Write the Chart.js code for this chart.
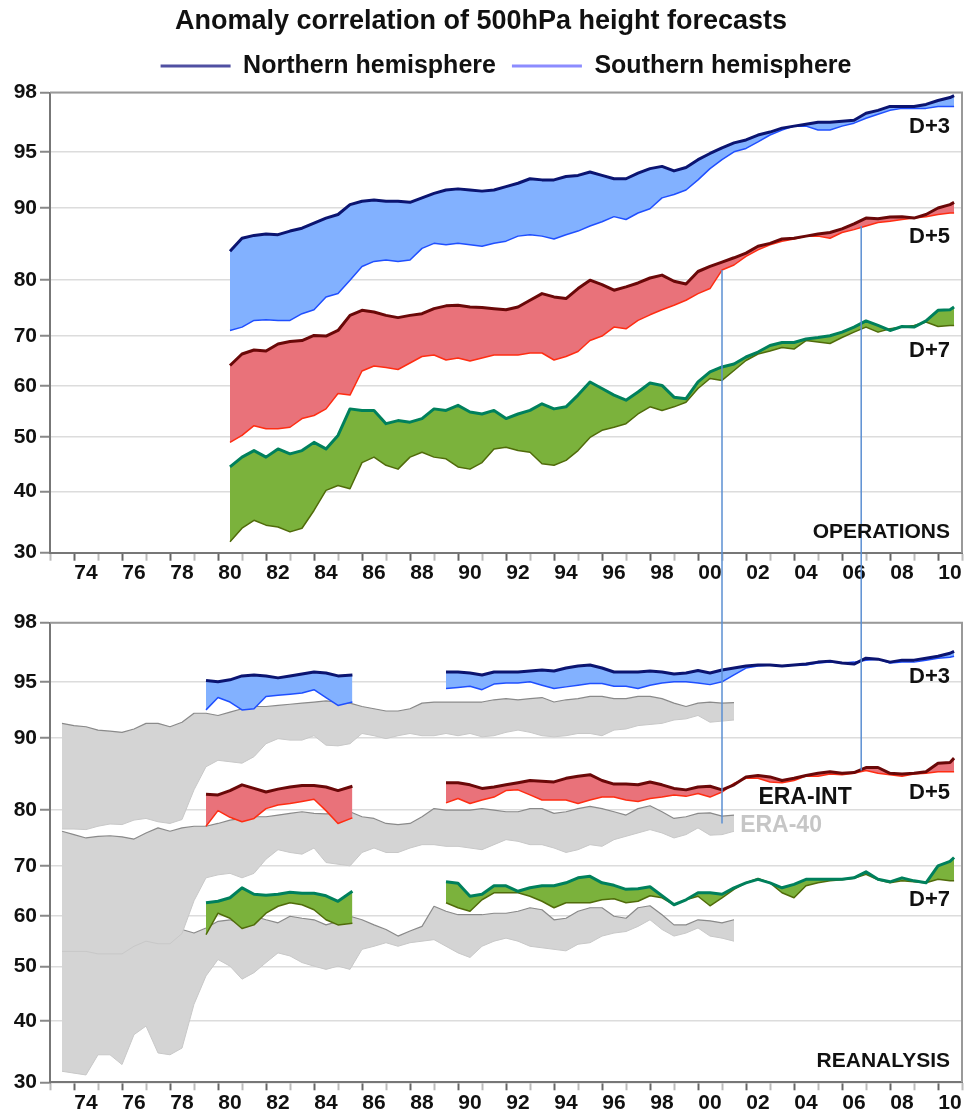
<!DOCTYPE html>
<html lang="en">
<head>
    <meta charset="UTF-8">
    <title>Anomaly correlation of 500hPa height forecasts</title>
    <script src="https://cdn.jsdelivr.net/npm/chart.js"></script>
    <style>
        html, body { margin: 0; padding: 0; background: #fff; }
        #wrap { position: relative; width: 965px; height: 1112px; }
        #opsChart { position: absolute; left: 0; top: 0; }
        #reaChart { position: absolute; left: 0; top: 590px; }
    </style>
</head>
<body>
<div id="wrap">
    <canvas id="opsChart" width="965" height="590"></canvas>
    <canvas id="reaChart" width="965" height="522"></canvas>
</div>
<script>
    // ---- axis definition (printed tick values and their relative spacing) ----
    const Y_TICKS = [30, 40, 50, 60, 70, 80, 90, 95, 98];
    const Y_GAPS = [61.2, 54.6, 51.0, 49.9, 55.9, 72.2, 56.2, 59.2];

    // ---- operations (top panel), 12-month running means ----
    const OPS_YEARS = [1980.5, 1981, 1981.5, 1982, 1982.5, 1983, 1983.5, 1984, 1984.5, 1985,
        1985.5, 1986, 1986.5, 1987, 1987.5, 1988, 1988.5, 1989, 1989.5, 1990,
        1990.5, 1991, 1991.5, 1992, 1992.5, 1993, 1993.5, 1994, 1994.5, 1995,
        1995.5, 1996, 1996.5, 1997, 1997.5, 1998, 1998.5, 1999, 1999.5, 2000,
        2000.5, 2001, 2001.5, 2002, 2002.5, 2003, 2003.5, 2004, 2004.5, 2005,
        2005.5, 2006, 2006.5, 2007, 2007.5, 2008, 2008.5, 2009, 2009.5, 2010,
        2010.5, 2010.67];
    const OPS_D3_NH = [84.0, 85.8, 86.2, 86.4, 86.3, 86.8, 87.2, 87.9, 88.6, 89.1,
        90.3, 90.6, 90.7, 90.6, 90.6, 90.5, 90.9, 91.3, 91.6, 91.7,
        91.6, 91.5, 91.6, 91.9, 92.2, 92.6, 92.5, 92.5, 92.8, 92.9,
        93.2, 92.9, 92.6, 92.6, 93.1, 93.5, 93.7, 93.3, 93.6, 94.3,
        94.85, 95.2, 95.45, 95.6, 95.85, 96.0, 96.2, 96.3, 96.4, 96.5,
        96.5, 96.55, 96.6, 96.95, 97.1, 97.3, 97.3, 97.3, 97.4, 97.6,
        97.75, 97.85];
    const OPS_D3_SH = [71.0, 71.6, 72.8, 72.9, 72.8, 72.8, 74.0, 74.7, 77.0, 77.6,
        80.0, 81.9, 82.6, 82.8, 82.6, 82.8, 84.4, 85.1, 84.9, 85.1,
        84.9, 84.7, 85.1, 85.4, 86.1, 86.3, 86.1, 85.7, 86.3, 86.8,
        87.5, 88.1, 88.8, 88.4, 89.3, 89.9, 90.9, 91.2, 91.6, 92.5,
        93.5, 94.3, 95.0, 95.17, 95.5, 95.85, 96.1, 96.3, 96.3, 96.1,
        96.1, 96.3, 96.45, 96.7, 96.9, 97.1, 97.2, 97.2, 97.2, 97.3,
        97.3, 97.3];
    const OPS_D5_NH = [64.1, 66.4, 67.2, 67.0, 68.4, 68.9, 69.1, 70.1, 70.0, 71.0,
        73.7, 74.6, 74.3, 73.7, 73.3, 73.7, 74.0, 74.9, 75.4, 75.5,
        75.2, 75.1, 74.9, 74.7, 75.2, 76.4, 77.6, 77.0, 76.7, 78.5,
        80.0, 79.2, 78.2, 78.8, 79.5, 80.3, 80.7, 79.8, 79.3, 81.2,
        81.9, 82.5, 83.1, 83.75, 84.7, 85.1, 85.7, 85.8, 86.1, 86.4,
        86.6, 87.1, 87.8, 88.6, 88.5, 88.75, 88.8, 88.6, 89.1, 90.0,
        90.3, 90.5];
    const OPS_D5_SH = [49.0, 50.3, 52.2, 51.6, 51.6, 51.9, 53.6, 54.2, 55.5, 58.5,
        58.2, 63.0, 64.0, 63.7, 63.3, 64.6, 65.9, 66.2, 65.2, 65.6,
        65.0, 65.6, 66.2, 66.2, 66.2, 66.6, 66.6, 65.2, 65.9, 66.9,
        69.1, 70.0, 71.6, 71.3, 72.8, 73.8, 74.7, 75.5, 76.4, 77.6,
        78.5, 81.4, 82.1, 83.3, 84.2, 84.9, 85.4, 85.7, 86.1, 86.1,
        85.8, 86.6, 87.0, 87.5, 88.0, 88.15, 88.4, 88.6, 88.8, 89.1,
        89.3, 89.3];
    const OPS_D7_NH = [44.5, 46.3, 47.5, 46.3, 47.8, 46.9, 47.5, 49.0, 47.8, 50.3,
        55.5, 55.2, 55.2, 52.6, 53.2, 52.9, 53.6, 55.5, 55.2, 56.2,
        54.9, 54.5, 55.2, 53.6, 54.5, 55.2, 56.5, 55.5, 55.9, 58.2,
        60.8, 59.5, 58.2, 57.2, 58.8, 60.6, 60.1, 57.8, 57.5, 60.8,
        62.8, 63.8, 64.4, 65.8, 66.8, 68.1, 68.7, 68.7, 69.4, 69.7,
        70.05, 70.7, 71.6, 72.7, 71.9, 71.0, 71.7, 71.6, 72.7, 74.6,
        74.7, 75.2];
    const OPS_D7_SH = [31.8, 34.0, 35.3, 34.5, 34.2, 33.4, 34.0, 36.9, 40.2, 41.1,
        40.5, 45.3, 46.3, 44.8, 44.1, 46.3, 47.2, 46.3, 46.0, 44.5,
        44.1, 45.3, 47.8, 48.1, 47.5, 47.2, 45.1, 44.8, 45.7, 47.5,
        49.9, 51.3, 51.9, 52.6, 54.5, 55.9, 55.2, 55.9, 56.8, 59.5,
        61.5, 61.1, 63.1, 65.1, 66.4, 67.0, 67.7, 67.4, 69.1, 68.8,
        68.5, 69.7, 70.7, 71.6, 70.7, 71.3, 71.6, 71.9, 72.5, 71.7,
        71.9, 71.9];

    // ---- ERA-40 reanalysis (bottom panel, grey) ----
    const E40_YEARS = [1973.5, 1974, 1974.5, 1975, 1975.5, 1976, 1976.5, 1977, 1977.5, 1978,
        1978.5, 1979, 1979.5, 1980, 1980.5, 1981, 1981.5, 1982, 1982.5, 1983,
        1983.5, 1984, 1984.5, 1985, 1985.5, 1986, 1986.5, 1987, 1987.5, 1988,
        1988.5, 1989, 1989.5, 1990, 1990.5, 1991, 1991.5, 1992, 1992.5, 1993,
        1993.5, 1994, 1994.5, 1995, 1995.5, 1996, 1996.5, 1997, 1997.5, 1998,
        1998.5, 1999, 1999.5, 2000, 2000.5, 2001, 2001.5];
    const E40_D3_NH = [91.3, 91.1, 91.0, 90.7, 90.6, 90.5, 90.8, 91.3, 91.3, 91.0,
        91.4, 92.2, 92.2, 92.0, 92.3, 92.6, 92.8, 92.8, 92.9, 93.0,
        93.1, 93.2, 93.3, 93.2, 93.1, 92.8, 92.6, 92.4, 92.4, 92.6,
        93.1, 93.2, 93.2, 93.2, 93.2, 93.2, 93.4, 93.5, 93.4, 93.5,
        93.6, 93.2, 93.4, 93.5, 93.7, 93.7, 93.5, 93.5, 93.7, 93.7,
        93.5, 93.1, 92.8, 93.1, 93.2, 93.1, 93.15];
    const E40_D3_SH = [76.6, 76.6, 76.5, 77.1, 77.5, 77.4, 78.2, 78.5, 77.9, 77.6,
        78.3, 82.8, 86.0, 86.9, 86.7, 86.5, 87.4, 89.2, 89.9, 89.7,
        89.7, 90.2, 89.0, 88.9, 89.2, 90.4, 90.2, 89.9, 90.2, 90.4,
        90.2, 90.2, 90.4, 90.2, 90.4, 90.1, 90.2, 90.5, 90.7, 90.5,
        90.2, 90.1, 90.2, 90.4, 90.4, 90.2, 90.7, 90.8, 91.1, 91.2,
        91.3, 91.6, 91.7, 92.0, 91.4, 91.5, 91.6];
    const E40_D5_NH = [76.2, 75.6, 75.0, 75.3, 75.4, 75.2, 74.8, 75.9, 76.8, 76.2,
        76.8, 77.1, 77.1, 77.6, 78.2, 78.5, 78.8, 78.8, 79.1, 79.4,
        79.7, 79.4, 79.3, 79.4, 79.7, 78.8, 78.5, 77.6, 77.4, 77.6,
        78.8, 80.2, 80.0, 80.0, 80.0, 80.2, 80.0, 79.7, 79.7, 80.2,
        80.2, 79.4, 79.7, 80.2, 80.5, 80.2, 79.7, 79.1, 80.2, 80.6,
        79.7, 78.5, 78.8, 79.4, 79.5, 78.9, 79.1];
    const E40_D5_SH = [53.0, 53.0, 53.0, 52.5, 52.5, 52.5, 54.0, 55.0, 54.5, 54.5,
        56.5, 63.0, 67.6, 68.2, 68.5, 67.6, 68.5, 71.2, 72.9, 72.4,
        72.1, 73.2, 70.6, 70.3, 70.0, 72.4, 73.2, 72.4, 72.4, 73.2,
        73.8, 73.8, 73.5, 73.5, 73.2, 72.9, 73.8, 74.7, 74.4, 73.8,
        73.8, 73.2, 72.4, 72.9, 73.8, 73.5, 74.7, 75.3, 75.9, 76.5,
        75.9, 75.0, 75.6, 76.8, 75.5, 75.6, 76.2];
    const E40_D7_NH = [55.3, 55.0, 55.6, 54.7, 54.7, 54.4, 57.0, 57.6, 56.6, 57.0,
        57.3, 56.6, 57.6, 58.9, 59.2, 58.2, 59.9, 59.2, 58.6, 59.9,
        59.5, 59.2, 58.2, 58.9, 59.9, 59.2, 58.2, 57.3, 56.0, 57.0,
        57.9, 61.9, 60.9, 60.2, 60.2, 60.2, 60.5, 60.5, 60.9, 61.6,
        61.2, 59.2, 59.5, 60.9, 61.6, 61.6, 59.9, 59.5, 61.6, 62.0,
        60.2, 58.2, 58.2, 59.2, 59.0, 58.6, 59.2];
    const E40_D7_SH = [31.8, 31.5, 31.2, 34.5, 34.5, 32.9, 37.8, 39.2, 34.8, 34.5,
        35.6, 43.1, 48.3, 51.4, 50.1, 47.7, 48.9, 50.8, 52.7, 52.1,
        50.8, 50.1, 49.5, 50.1, 49.5, 53.4, 54.0, 54.7, 54.0, 54.7,
        55.0, 55.3, 54.0, 52.7, 51.8, 54.0, 55.0, 55.6, 55.0, 54.0,
        53.7, 53.4, 53.1, 54.4, 54.7, 56.0, 56.6, 56.9, 57.9, 59.2,
        57.3, 56.0, 56.6, 57.6, 56.0, 55.6, 55.0];

    // ---- ERA-Interim, first stream (1979-1985) ----
    const EI1_YEARS = [1979.5, 1980, 1980.5, 1981, 1981.5, 1982, 1982.5, 1983, 1983.5, 1984, 1984.5, 1985, 1985.6];
    const EI1_D3_NH = [95.07, 95.0, 95.1, 95.3, 95.35, 95.3, 95.2, 95.3, 95.4, 95.5, 95.45, 95.3, 95.35];
    const EI1_D3_SH = [92.5, 93.6, 93.2, 92.5, 92.6, 93.7, 93.8, 93.9, 94.0, 94.3, 93.6, 92.9, 93.2];
    const EI1_D5_NH = [82.2, 82.1, 82.7, 83.5, 83.0, 82.5, 82.9, 83.2, 83.4, 83.4, 83.2, 82.7, 83.3];
    const EI1_D5_SH = [77.1, 79.9, 78.7, 77.9, 78.5, 80.2, 80.7, 80.9, 81.2, 81.5, 79.9, 77.6, 78.6];
    const EI1_D7_NH = [62.6, 62.9, 63.6, 65.6, 64.3, 64.1, 64.3, 64.7, 64.5, 64.5, 64.0, 62.9, 64.9];
    const EI1_D7_SH = [56.3, 60.5, 59.5, 57.5, 58.2, 60.5, 61.9, 62.6, 62.2, 61.2, 59.2, 58.2, 58.5];

    // ---- ERA-Interim, second stream (1989-2010) ----
    const EI2_YEARS = [1989.5, 1990, 1990.5, 1991, 1991.5, 1992, 1992.5, 1993, 1993.5, 1994,
        1994.5, 1995, 1995.5, 1996, 1996.5, 1997, 1997.5, 1998, 1998.5, 1999,
        1999.5, 2000, 2000.5, 2001, 2001.5, 2002, 2002.5, 2003, 2003.5, 2004,
        2004.5, 2005, 2005.5, 2006, 2006.5, 2007, 2007.5, 2008, 2008.5, 2009,
        2009.5, 2010, 2010.5, 2010.67];
    const EI2_D3_NH = [95.5, 95.5, 95.45, 95.35, 95.5, 95.5, 95.5, 95.55, 95.6, 95.55,
        95.7, 95.8, 95.85, 95.7, 95.5, 95.5, 95.5, 95.55, 95.5, 95.4,
        95.45, 95.57, 95.45, 95.6, 95.7, 95.8, 95.85, 95.85, 95.8, 95.85,
        95.9, 96.0, 96.05, 95.95, 95.9, 96.2, 96.15, 96.0, 96.1, 96.1,
        96.2, 96.3, 96.45, 96.55];
    const EI2_D3_SH = [94.4, 94.5, 94.6, 94.3, 94.8, 94.9, 94.9, 95.0, 94.7, 94.4,
        94.55, 94.7, 94.85, 94.85, 94.6, 94.6, 94.4, 94.7, 94.9, 95.0,
        95.0, 94.9, 94.75, 95.0, 95.35, 95.7, 95.8, 95.85, 95.8, 95.85,
        95.85, 95.95, 96.0, 95.95, 96.0, 96.1, 96.15, 95.95, 96.0, 96.0,
        96.1, 96.2, 96.25, 96.3];
    const EI2_D5_NH = [83.8, 83.8, 83.5, 83.0, 83.2, 83.5, 83.8, 84.1, 84.0, 83.9,
        84.4, 84.7, 84.9, 84.1, 83.6, 83.6, 83.5, 83.9, 83.5, 83.0,
        82.8, 83.2, 83.3, 82.8, 83.5, 84.6, 84.8, 84.6, 84.1, 84.4,
        84.8, 85.1, 85.3, 85.1, 85.2, 85.9, 85.9, 85.1, 85.0, 85.1,
        85.3, 86.5, 86.6, 87.2];
    const EI2_D5_SH = [81.0, 81.6, 80.9, 81.4, 81.8, 82.7, 82.8, 82.1, 81.4, 81.4,
        81.4, 80.9, 81.4, 81.8, 81.8, 81.4, 81.2, 81.6, 81.8, 82.1,
        81.9, 82.3, 81.8, 82.5, 83.7, 84.4, 84.4, 83.9, 83.8, 84.1,
        84.7, 84.7, 85.0, 84.9, 85.1, 85.5, 85.1, 84.9, 84.7, 85.0,
        85.1, 85.3, 85.3, 85.3];
    const EI2_D7_NH = [66.8, 66.5, 63.9, 64.3, 66.0, 66.0, 64.9, 65.6, 66.0, 66.0,
        66.6, 67.6, 67.9, 66.6, 66.1, 65.3, 65.4, 65.8, 64.0, 62.2,
        63.2, 64.6, 64.6, 64.3, 65.6, 66.6, 67.3, 66.6, 65.6, 66.3,
        67.3, 67.3, 67.3, 67.3, 67.6, 68.8, 67.3, 66.8, 67.6, 67.0,
        66.6, 70.0, 70.8, 71.5];
    const EI2_D7_SH = [62.6, 61.6, 60.9, 63.2, 64.6, 64.6, 64.6, 63.9, 62.9, 61.6,
        62.6, 62.6, 62.6, 63.2, 63.4, 62.6, 62.9, 64.0, 63.6, 62.2,
        63.2, 63.9, 62.0, 63.6, 65.3, 66.6, 67.5, 66.6, 64.6, 63.6,
        66.0, 66.6, 67.0, 67.2, 67.5, 68.3, 67.2, 66.6, 67.0, 66.8,
        66.6, 67.3, 67.0, 67.0];

    // ---- connectors between the panels (year, D+5 value in each panel) ----
    const LINK_YEARS = [2001.0, 2006.8];
    const LINK_OPS = [81.4, 87.5];
    const LINK_REA = [77.6, 85.5];

    const LEGEND_NAMES = ['Northern hemisphere', 'Southern hemisphere'];

    const FONT = "'Liberation Sans', Arial, Helvetica, sans-serif";
    const STYLE = {
        d3: { nh: '#0b1470', sh: '#1f4fff', fill: '#82b1ff' },
        d5: { nh: '#6a0808', sh: '#ff2d12', fill: '#e9727a' },
        d7: { nh: '#00805c', sh: '#506b0a', fill: '#7bb23c' },
        era40: { nh: '#8a8a8a', sh: '#c8c8c8', fill: '#d4d4d4' }
    };
    const LEGEND_COLORS = ['#5050a2', '#8c8cff'];

    const OPS_TEXTS = [
        { text: 'D+3', x: 2010.5, y: 96.27, align: 'right', color: '#111', size: 22 },
        { text: 'D+5', x: 2010.5, y: 86.05, align: 'right', color: '#111', size: 22 },
        { text: 'D+7', x: 2010.5, y: 67.1, align: 'right', color: '#111', size: 22 },
        { text: 'OPERATIONS', x: 2010.5, y: 33.4, align: 'right', color: '#111', size: 21 }
    ];
    const REA_TEXTS = [
        { text: 'D+3', x: 2010.5, y: 95.25, align: 'right', color: '#111', size: 22 },
        { text: 'D+5', x: 2010.5, y: 82.4, align: 'right', color: '#111', size: 22 },
        { text: 'ERA-INT', x: 2004.46, y: 81.66, align: 'center', color: '#111', size: 23 },
        { text: 'ERA-40', x: 2003.46, y: 77.2, align: 'center', color: '#c6c6c6', size: 23 },
        { text: 'D+7', x: 2010.5, y: 63.25, align: 'right', color: '#111', size: 22 },
        { text: 'REANALYSIS', x: 2010.5, y: 33.4, align: 'right', color: '#111', size: 21 }
    ];

    // Piecewise scale: ticks keep the uneven spacing of the printed axis
    const yCum = [0];
    Y_GAPS.forEach((g, i) => yCum.push(yCum[i] + g));
    const yTotal = yCum[yCum.length - 1];

    function warp(v) {
        let i = 0;
        while (i < Y_TICKS.length - 2 && v > Y_TICKS[i + 1]) i++;
        const f = (v - Y_TICKS[i]) / (Y_TICKS[i + 1] - Y_TICKS[i]);
        return (yCum[i] + f * Y_GAPS[i]) / yTotal;
    }

    function unwarp(d) {
        const u = d * yTotal;
        let i = 0;
        while (i < Y_GAPS.length - 1 && u > yCum[i + 1]) i++;
        return Y_TICKS[i] + (u - yCum[i]) / Y_GAPS[i] * (Y_TICKS[i + 1] - Y_TICKS[i]);
    }

    class WarpScale extends Chart.LinearScale {
        static id = 'warp';
        static defaults = {};
        buildTicks() { return Y_TICKS.map(v => ({ value: v })); }
        getPixelForValue(v) { return this.getPixelForDecimal(warp(v)); }
        getValueForPixel(p) { return unwarp(this.getDecimalForPixel(p)); }
    }
    Chart.register(WarpScale);

    // NH line + SH line, area filled between them
    function band(years, nh, sh, style, order, thin) {
        const pts = vals => years.map((yr, i) => ({ x: yr, y: vals[i] }));
        return [
            { data: pts(nh), borderColor: style.nh, borderWidth: thin ? 1.2 : 3, fill: false, order: order },
            { data: pts(sh), borderColor: style.sh, borderWidth: thin ? 1 : 1.5, backgroundColor: style.fill, fill: '-1', order: order }
        ];
    }

    function xAxis(height) {
        return {
            type: 'linear', min: 1973, max: 2011,
            afterFit: s => { s.height = height; },
            border: { display: true, color: '#777', width: 2 },
            grid: {
                drawOnChartArea: false, drawTicks: true, tickLength: 8, tickWidth: 2,
                tickColor: c => (Math.round(c.tick.value) % 2 === 0 ? '#666' : '#bbb')
            },
            ticks: {
                stepSize: 1, autoSkip: false, maxRotation: 0, minRotation: 0, padding: 0, labelOffset: 12,
                color: '#111', font: { family: FONT, size: 21, weight: 'bold' },
                callback: v => {
                    const yr = Math.round(v);
                    return yr % 2 === 0 ? String(yr % 100).padStart(2, '0') : '';
                }
            }
        };
    }

    function yAxis() {
        return {
            type: 'warp', min: 30, max: 98,
            afterFit: s => { s.width = 50; },
            border: { display: true, color: '#777', width: 2 },
            grid: { color: '#dcdcdc', lineWidth: 1.5, tickLength: 10, tickColor: '#888', tickWidth: 2 },
            ticks: {
                padding: 3, color: '#111', font: { family: FONT, size: 21, weight: 'bold' },
                callback: v => String(v)
            }
        };
    }

    // frame, panel captions and the connector lines
    function decor(texts, linkVals, down) {
        return {
            id: 'decor',
            afterDatasetsDraw(chart) {
                const { ctx, chartArea: a } = chart;
                const x = chart.scales.x, y = chart.scales.y;
                ctx.save();
                ctx.strokeStyle = '#999';
                ctx.lineWidth = 2;
                ctx.beginPath();
                ctx.moveTo(a.left, a.top);
                ctx.lineTo(a.right, a.top);
                ctx.lineTo(a.right, a.bottom);
                ctx.stroke();

                ctx.strokeStyle = '#5b8fd2';
                ctx.lineWidth = 1.5;
                LINK_YEARS.forEach((yr, i) => {
                    const px = x.getPixelForValue(yr);
                    ctx.beginPath();
                    ctx.moveTo(px, y.getPixelForValue(linkVals[i]));
                    ctx.lineTo(px, down ? chart.height : 0);
                    ctx.stroke();
                });

                ctx.textBaseline = 'middle';
                texts.forEach(t => {
                    ctx.font = 'bold ' + t.size + 'px ' + FONT;
                    ctx.fillStyle = t.color;
                    ctx.textAlign = t.align;
                    ctx.fillText(t.text, x.getPixelForValue(t.x), y.getPixelForValue(t.y));
                });
                ctx.restore();
            }
        };
    }

    const common = {
        responsive: false,
        animation: false,
        events: [],
        elements: { point: { radius: 0 }, line: { tension: 0, borderJoinStyle: 'round' } },
        plugins: { tooltip: { enabled: false } }
    };

    new Chart(document.getElementById('opsChart'), {
        type: 'line',
        data: {
            datasets: [
                ...band(OPS_YEARS, OPS_D3_NH, OPS_D3_SH, STYLE.d3, 0),
                ...band(OPS_YEARS, OPS_D5_NH, OPS_D5_SH, STYLE.d5, 0),
                ...band(OPS_YEARS, OPS_D7_NH, OPS_D7_SH, STYLE.d7, 0)
            ]
        },
        options: {
            ...common,
            layout: { padding: { top: 0, right: 3, bottom: 0, left: 0 } },
            scales: { x: xAxis(37.3), y: yAxis() },
            plugins: {
                tooltip: { enabled: false },
                title: {
                    display: true,
                    text: 'Anomaly correlation of 500hPa height forecasts',
                    color: '#111',
                    font: { family: FONT, size: 27, weight: 'bold' },
                    padding: { top: 5, bottom: 0 }
                },
                legend: {
                    display: true, position: 'top', fullSize: false,
                    labels: {
                        boxWidth: 70, boxHeight: 3, padding: 16, color: '#111',
                        font: { family: FONT, size: 25, weight: 'bold' },
                        generateLabels: () => LEGEND_NAMES.map((t, i) => ({
                            text: t, fillStyle: LEGEND_COLORS[i], strokeStyle: LEGEND_COLORS[i],
                            lineWidth: 0, hidden: false, fontColor: '#111'
                        }))
                    }
                },
                // small spacer between legend and plot area
                subtitle: { display: true, text: '', weight: 500, padding: 0, font: { size: 3.5 } }
            }
        },
        plugins: [decor(OPS_TEXTS, LINK_OPS, true)]
    });

    new Chart(document.getElementById('reaChart'), {
        type: 'line',
        data: {
            datasets: [
                ...band(EI1_YEARS, EI1_D3_NH, EI1_D3_SH, STYLE.d3, 0),
                ...band(EI1_YEARS, EI1_D5_NH, EI1_D5_SH, STYLE.d5, 0),
                ...band(EI1_YEARS, EI1_D7_NH, EI1_D7_SH, STYLE.d7, 0),
                ...band(EI2_YEARS, EI2_D3_NH, EI2_D3_SH, STYLE.d3, 0),
                ...band(EI2_YEARS, EI2_D5_NH, EI2_D5_SH, STYLE.d5, 0),
                ...band(EI2_YEARS, EI2_D7_NH, EI2_D7_SH, STYLE.d7, 0),
                ...band(E40_YEARS, E40_D3_NH, E40_D3_SH, STYLE.era40, 1, true),
                ...band(E40_YEARS, E40_D5_NH, E40_D5_SH, STYLE.era40, 1, true),
                ...band(E40_YEARS, E40_D7_NH, E40_D7_SH, STYLE.era40, 1, true)
            ]
        },
        options: {
            ...common,
            layout: { padding: { top: 32.7, right: 3, bottom: 0, left: 0 } },
            scales: { x: xAxis(29.7), y: yAxis() },
            plugins: {
                tooltip: { enabled: false },
                title: { display: false },
                legend: { display: false }
            }
        },
        plugins: [decor(REA_TEXTS, LINK_REA, false)]
    });
</script>
</body>
</html>
